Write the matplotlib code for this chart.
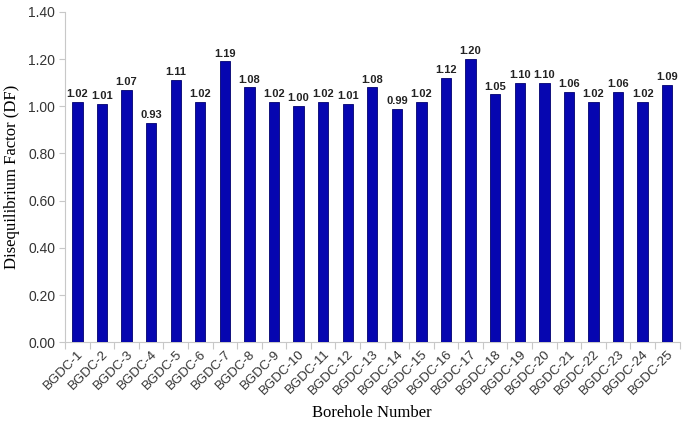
import matplotlib
matplotlib.use("Agg")
import matplotlib.pyplot as plt
import numpy as np

labels = [f"BGDC-{i}" for i in range(1, 26)]
values = [1.02, 1.01, 1.07, 0.93, 1.11, 1.02, 1.19, 1.08, 1.02, 1.00,
          1.02, 1.01, 1.08, 0.99, 1.02, 1.12, 1.20, 1.05, 1.10, 1.10,
          1.06, 1.02, 1.06, 1.02, 1.09]
yticks = [0.0, 0.2, 0.4, 0.6, 0.8, 1.0, 1.2, 1.4]

fig = plt.figure(figsize=(6.85, 4.23), dpi=100)
ax = fig.add_axes([0.095, 0.191, 0.897, 0.781])

x = np.arange(len(labels))
ax.bar(x, values, width=0.42, color="#0606b0", edgecolor="#00006e", linewidth=0.6, zorder=3)
for xi, v in zip(x, values):
    ax.text(xi, v + 0.012, f"{v:.2f}", ha="center", va="bottom", fontsize=8,
            fontweight="bold", family="Liberation Sans", color="#222222")

ax.set_xlim(-0.5, len(labels) - 0.5)
ax.set_ylim(0, 1.4)
ax.set_yticks(yticks)
ax.set_yticklabels([f"{t:.2f}" for t in yticks], family="Liberation Sans", fontsize=10, color="#333333")
ax.set_xticks(x)
ax.set_xticklabels(labels, rotation=45, ha="right", rotation_mode="anchor",
                   family="Liberation Sans", fontsize=9.5, color="#333333")
ax.tick_params(axis="x", length=0, pad=4)
ax.tick_params(axis="y", length=4, color="#c8c8c8", direction="out", width=0.8, pad=3)
# minor ticks between categories
ax.set_xticks(np.arange(-0.5, len(labels), 1.0), minor=True)
ax.tick_params(axis="x", which="minor", length=5, color="#c8c8c8", direction="out", width=0.8)

for s in ["top", "right"]:
    ax.spines[s].set_visible(False)
for s in ["left", "bottom"]:
    ax.spines[s].set_color("#c8c8c8")
    ax.spines[s].set_linewidth(0.8)

ax.set_ylabel("Disequilibrium Factor (DF)", family="Liberation Serif", fontsize=12, labelpad=6)
ax.set_xlabel("Borehole Number", family="Liberation Serif", fontsize=12, labelpad=6)

fig.savefig("out.png", dpi=100)
